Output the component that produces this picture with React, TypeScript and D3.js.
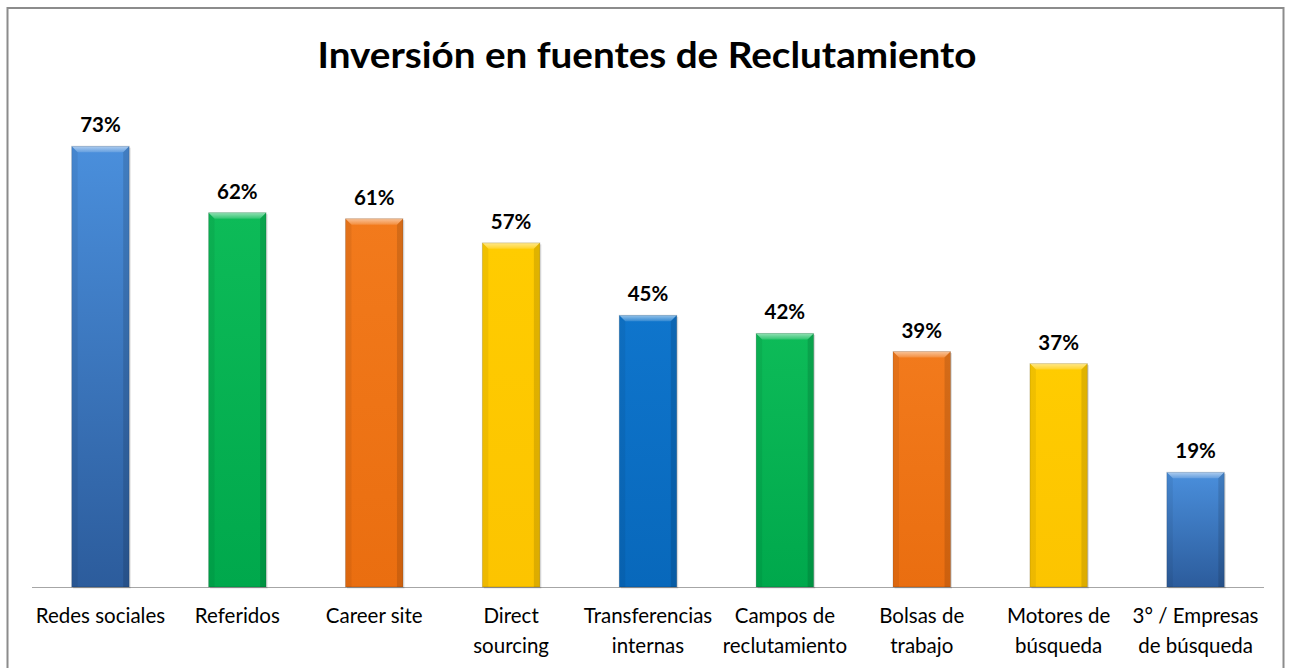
import React from "react";
import * as d3 from "d3";

const categories = [
  ["Redes sociales"],
  ["Referidos"],
  ["Career site"],
  ["Direct", "sourcing"],
  ["Transferencias", "internas"],
  ["Campos de", "reclutamiento"],
  ["Bolsas de", "trabajo"],
  ["Motores de", "búsqueda"],
  ["3° / Empresas", "de búsqueda"],
];
const values = [73, 62, 61, 57, 45, 42, 39, 37, 19];
const barColors = [
  ["#4a8fdc", "#2c5c9c"],
  ["#0dbb58", "#00a84c"],
  ["#f27a1c", "#ea6e10"],
  ["#ffcc00", "#fcc400"],
  ["#0f75cc", "#0868bb"],
  ["#0dbb58", "#00a84c"],
  ["#f27a1c", "#ea6e10"],
  ["#ffcc00", "#fcc400"],
  ["#4a8fdc", "#2c5c9c"],
];
const title = "Inversión en fuentes de Reclutamiento";

const W = 1290;
const H = 668;
const FONT = "Lato, 'Open Sans', sans-serif";

export default function App() {
  const x = d3
    .scaleBand<number>()
    .domain(d3.range(values.length))
    .range([32, 1264])
    .paddingInner(0.58)
    .paddingOuter(0.29);
  const y = d3.scaleLinear().domain([0, 80]).range([587, 104]);
  const bw = x.bandwidth();
  const bev = 6;

  return (
    <svg
      width={W}
      height={H}
      style={{ position: "absolute", left: 0, top: 0, background: "#fff" }}
    >
      <defs>
        {barColors.map((c, i) => (
          <linearGradient key={i} id={`g${i}`} x1="0" y1="0" x2="0" y2="1">
            <stop offset="0" stopColor={c[0]} />
            <stop offset="1" stopColor={c[1]} />
          </linearGradient>
        ))}
        <linearGradient id="shine" x1="0" y1="0" x2="0" y2="1">
          <stop offset="0" stopColor="#fff" stopOpacity={0.55} />
          <stop offset="1" stopColor="#fff" stopOpacity={0.15} />
        </linearGradient>
      </defs>
      <rect x={7.5} y={8} width={1276} height={680} fill="#fff" stroke="#8c8c8c" strokeWidth={2} />
      <text
        x={647}
        y={68}
        textAnchor="middle"
        fontFamily={FONT}
        fontWeight="bold"
        fontSize={36}
        textLength={659}
        lengthAdjust="spacingAndGlyphs"
        fill="#000"
      >
        {title}
      </text>
      <line x1={32} x2={1264} y1={587.5} y2={587.5} stroke="#a6a6a6" strokeWidth={1} />
      {values.map((v, i) => {
        const x0 = x(i)!;
        const x1 = x0 + bw;
        const yt = y(v);
        const yb = y(0);
        return (
          <g key={i}>
            <rect x={x0 + 1.5} y={yt + 1.5} width={bw} height={yb - yt} fill="#000" opacity={0.12} />
            <rect x={x0} y={yt} width={bw} height={yb - yt} fill={`url(#g${i})`} />
            <polygon
              points={`${x0},${yt} ${x1},${yt} ${x1 - bev},${yt + bev} ${x0 + bev},${yt + bev}`}
              fill="url(#shine)"
            />
            <polygon
              points={`${x0},${yt} ${x0 + bev},${yt + bev} ${x0 + bev},${yb} ${x0},${yb}`}
              fill="#000"
              opacity={0.06}
            />
            <polygon
              points={`${x1},${yt} ${x1 - bev},${yt + bev} ${x1 - bev},${yb} ${x1},${yb}`}
              fill="#000"
              opacity={0.12}
            />
            <rect x={x0} y={yt} width={bw} height={yb - yt} fill="none" stroke="#000" strokeOpacity={0.15} strokeWidth={1} />
            <text
              x={x0 + bw / 2}
              y={yt - 14}
              textAnchor="middle"
              fontFamily={FONT}
              fontWeight="bold"
              fontSize={20.5}
              fill="#000"
            >
              {v}%
            </text>
            {categories[i].map((line, j) => (
              <text
                key={j}
                x={x0 + bw / 2}
                y={623 + j * 30}
                textAnchor="middle"
                fontFamily={FONT}
                fontSize={20.5}
                fill="#000"
              >
                {line}
              </text>
            ))}
          </g>
        );
      })}
    </svg>
  );
}
